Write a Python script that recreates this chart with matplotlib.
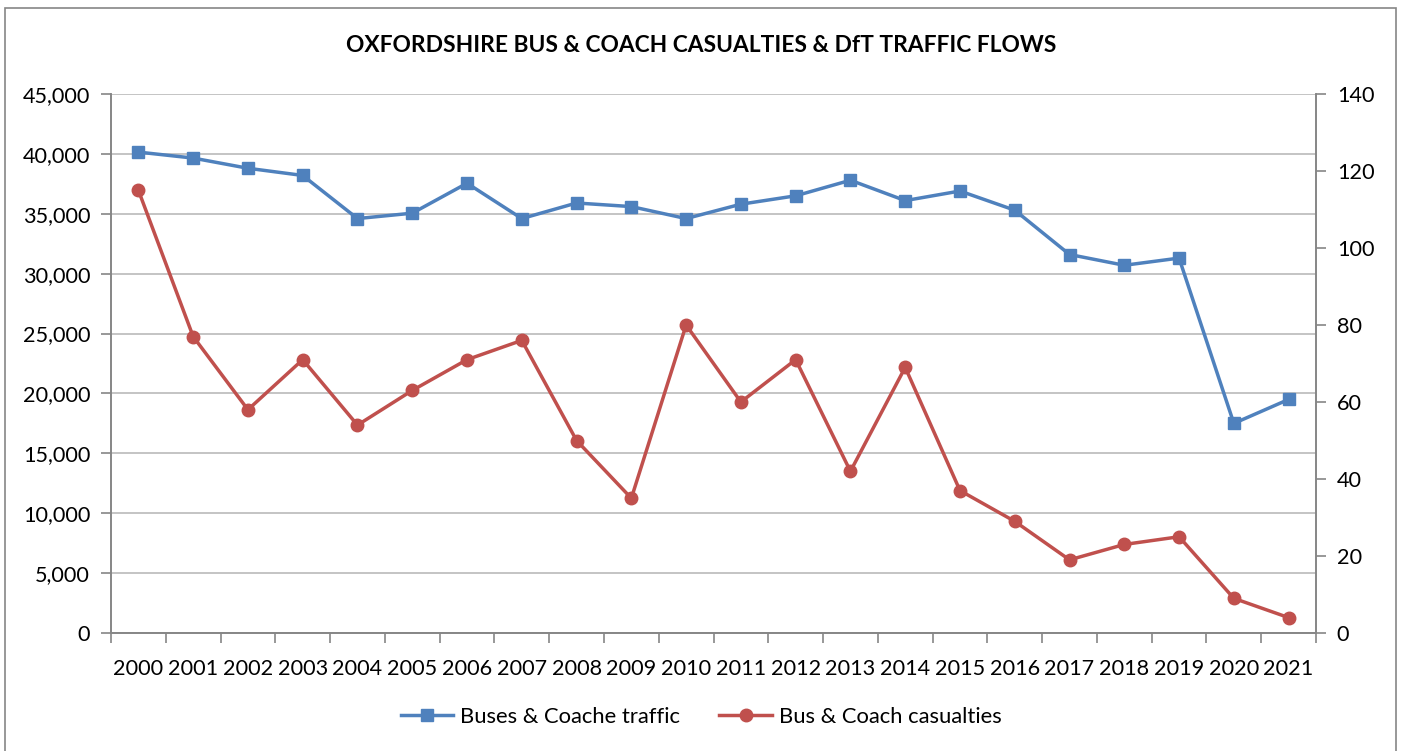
import matplotlib
matplotlib.use("Agg")
import matplotlib.pyplot as plt
from matplotlib.patches import Rectangle
import numpy as np

plt.rcParams['font.family'] = ['Lato', 'DejaVu Sans']

years = [str(y) for y in range(2000, 2022)]
# bus & coach traffic flows (left axis)
traffic = [40150, 39650, 38800, 38200, 34600, 35050, 37550, 34600, 35900, 35600, 34600,
           35800, 36500, 37800, 36100, 36900, 35300, 31600, 30700, 31300, 17500, 19500]
# bus & coach casualties (right axis)
casualties = [115, 77, 58, 71, 54, 63, 71, 76, 50, 35, 80,
              60, 71, 42, 69, 37, 29, 19, 23, 25, 9, 4]

blue = "#4f81bd"
red = "#c0504d"
axis_grey = "#868686"

fig = plt.figure(figsize=(14.02, 7.51), dpi=100)
ax = fig.add_axes([111/1402, 1-633/751, (1316-111)/1402, (633-94)/751])
ax2 = ax.twinx()

x = np.arange(len(years))
l1, = ax.plot(x, traffic, color=blue, lw=2.5, marker="s", ms=9, label="Buses & Coache traffic", zorder=3)
l2, = ax2.plot(x, casualties, color=red, lw=2.5, marker="o", ms=9, label="Bus & Coach casualties", zorder=3)

ax.set_xlim(-0.5, len(years) - 0.5)
ax.set_ylim(0, 45000)
ax2.set_ylim(0, 140)
ax.set_yticks(np.arange(0, 45001, 5000))
ax.set_yticklabels([f"{v:,}" for v in range(0, 45001, 5000)])
ax2.set_yticks(np.arange(0, 141, 20))

ax.set_xticks(x)
ax.set_xticklabels(years)
ax.set_xticks(np.arange(-0.5, len(years), 1), minor=True)
ax.tick_params(axis="x", which="major", length=0, pad=19)
ax.tick_params(axis="x", which="minor", length=7, color=axis_grey, width=1.2)
ax.tick_params(axis="y", length=7, color=axis_grey, width=1.2, pad=8)
ax2.tick_params(axis="y", length=7, color=axis_grey, width=1.2, pad=8)
for a in (ax, ax2):
    a.tick_params(labelsize=15.6)

ax.grid(axis="y", color="#bfbfbf", lw=1.3)
ax.set_axisbelow(True)
for a in (ax, ax2):
    a.spines["top"].set_visible(False)
    for side in ("left", "right", "bottom"):
        a.spines[side].set_color(axis_grey)
        a.spines[side].set_linewidth(1.2)

fig.text(0.5, 1-45/751, "OXFORDSHIRE BUS & COACH CASUALTIES & DfT TRAFFIC FLOWS",
         ha="center", va="center", fontsize=16.4, fontweight="bold")

fig.legend(handles=[l1, l2], loc="center", bbox_to_anchor=(0.5, 1-717/751), ncol=2,
           frameon=False, fontsize=15.8, handlelength=2.4, columnspacing=1.8, handletextpad=0.3)

fig.patches.append(Rectangle((5/1402, -0.01), (1396-5)/1402, 1-8/751+0.01,
                             transform=fig.transFigure, fill=False, edgecolor=axis_grey, lw=1.2))

fig.savefig("out.png", dpi=100)
